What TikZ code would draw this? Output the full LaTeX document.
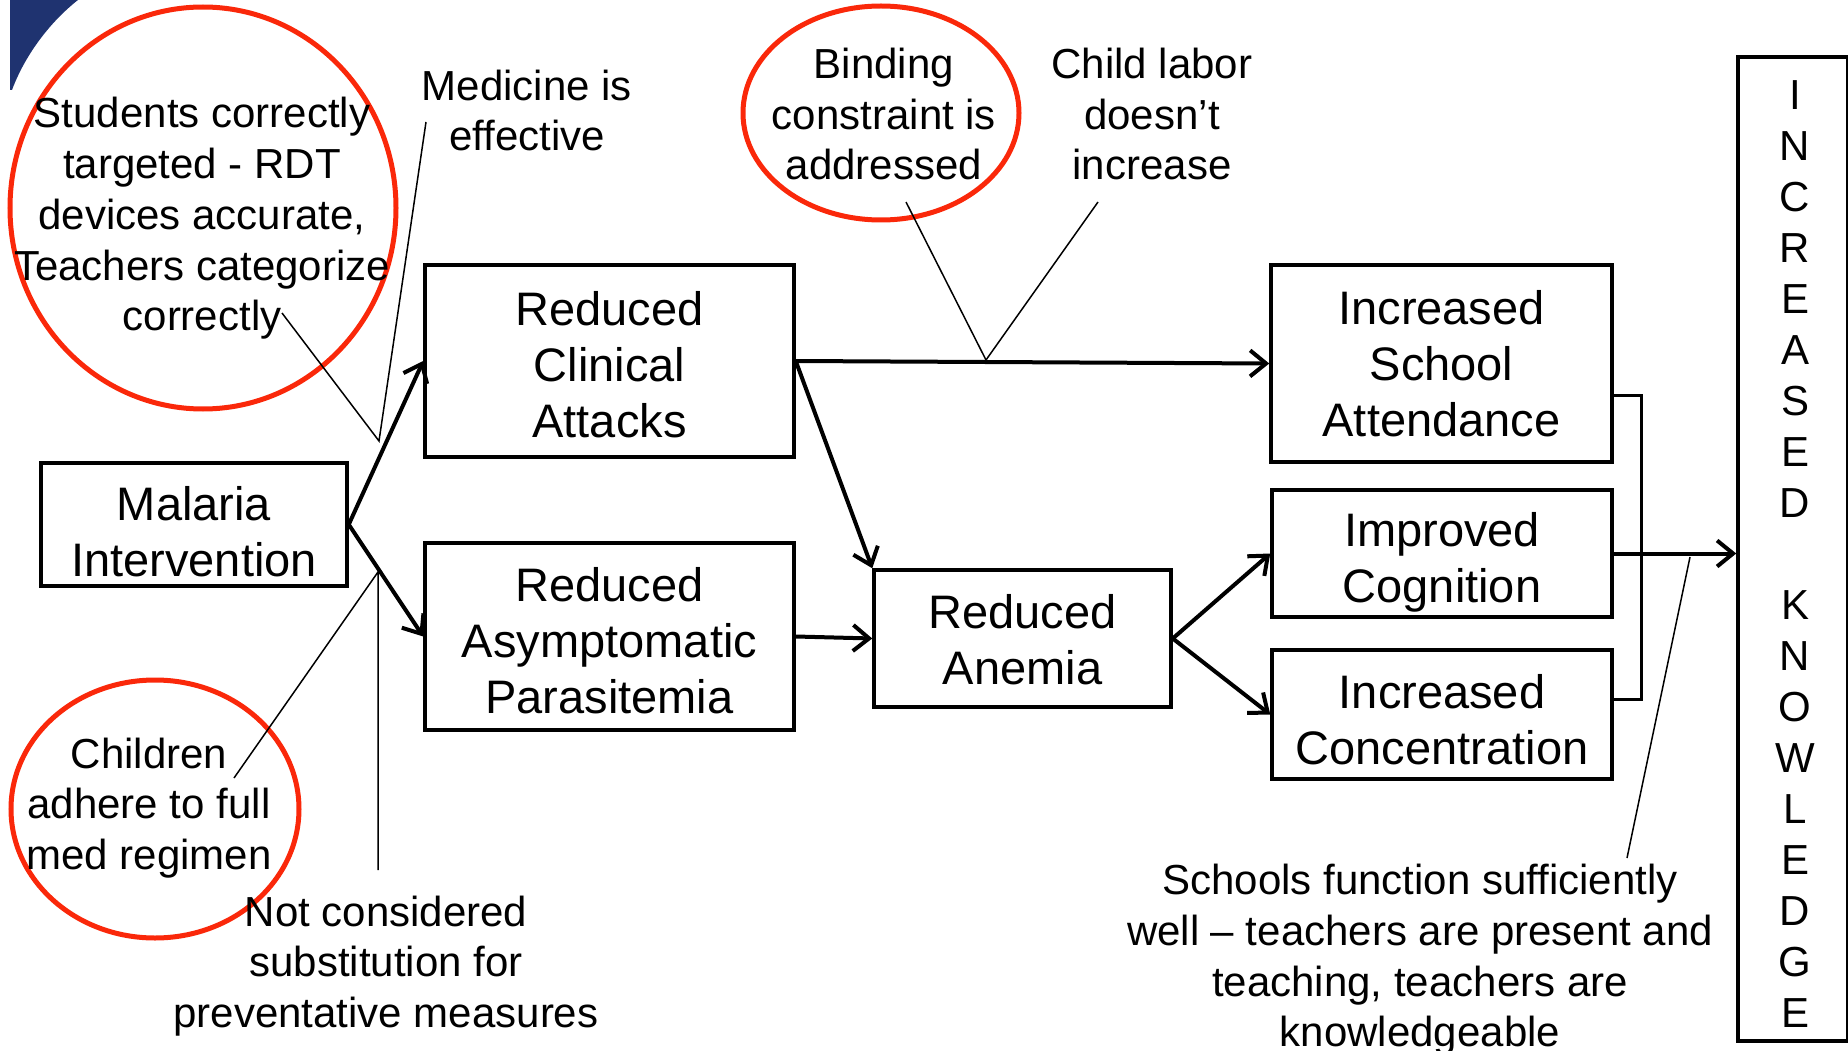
\documentclass[tikz,border=0pt]{standalone}
\usepackage{fontspec}
\setmainfont{Liberation Sans}
\usetikzlibrary{arrows.meta}

\definecolor{ringred}{RGB}{250,40,10}
\definecolor{slideblue}{RGB}{31,51,112}

\tikzset{
	box/.style={draw, line width=3.5pt, align=center, inner sep=0pt, text depth=0pt,
		font=\fontsize{47}{56}\selectfont},
	note/.style={align=center, inner sep=0pt, font=\fontsize{42}{50.7}\selectfont},
	flow/.style={line width=4pt, -{Straight Barb[length=16pt,width=26pt]}},
	pointer/.style={line width=1.5pt},
	ring/.style={draw=ringred, line width=5pt}
}

\begin{document}
\begin{tikzpicture}[x=1pt, y=-1pt]
\useasboundingbox (0,0) rectangle (1848,1051);
% corner of the slide banner
\fill[slideblue] (10,0) -- (78,0) .. controls (50,22) and (25,55) .. (12,90) -- (10,90) -- cycle;

% chain boxes
\node[box, minimum width=306pt, minimum height=123pt, text height=104pt] (mal) at (194,524.5) {Malaria\\Intervention};
\node[box, minimum width=369pt, minimum height=192pt, text height=153pt] (clin) at (609.5,361) {Reduced\\Clinical\\Attacks};
\node[box, minimum width=369pt, minimum height=187pt, text height=153pt] (para) at (609.5,636.5) {Reduced\\Asymptomatic\\Parasitemia};
\node[box, minimum width=297pt, minimum height=137pt, text height=92pt] (anem) at (1022.5,638.5) {Reduced\\Anemia};
\node[box, minimum width=341pt, minimum height=197pt, text height=146pt] (school) at (1441.5,363.5) {Increased\\School\\Attendance};
\node[box, minimum width=340pt, minimum height=127pt, text height=98pt] (cog) at (1442,553.5) {Improved\\Cognition};
\node[box, minimum width=340pt, minimum height=129pt, text height=100pt] (conc) at (1442,714.5) {Increased\\Concentration};
\node[box, minimum width=110pt, minimum height=984pt] (know) at (1793,549) {};
\foreach \c [count=\i] in {I,N,C,R,E,A,S,E,D,{},K,N,O,W,L,E,D,G,E}
	\node[note] (k\i) at (1795, {44.5+51*\i}) {\c};

% causal arrows
\draw[flow] (mal.east) -- (clin.west);
\draw[flow] (mal.east) -- (para.west);
\draw[flow] (clin.east) -- (school.west);
\draw[flow] (clin.east) -- (anem.north west);
\draw[flow] (para.east) -- (anem.west);
\draw[flow] (anem.east) -- (cog.west);
\draw[flow] (anem.east) -- (conc.west);
\draw[flow] (cog.east) -- (cog.east -| know.west);
\coordinate (bt) at (1641,395);
\coordinate (bb) at (1641,699);
\draw[line width=3pt] (school.east |- bt) -- (bt) -- (bb) -- (conc.east |- bb);

% assumptions
\draw[ring] (203,208) ellipse [x radius=193, y radius=201];
\draw[ring] (155,809) ellipse [x radius=144, y radius=129];
\draw[ring] (881,113) ellipse [x radius=138, y radius=107];
\node[note] (stud) at (202,218.5) {Students correctly\\targeted - RDT\\devices accurate,\\Teachers categorize\\correctly};
\node[note] (med) at (527,110.5) {Medicine is\\effective};
\node[note] (bind) at (884,114) {Binding\\constraint is\\addressed};
\node[note] (labor) at (1152,114) {Child labor\\doesn’t\\increase};
\node[note] (kids) at (149,808) {Children\\adhere to full\\med regimen};
\node[note] (subst) at (386,966) {Not considered\\substitution for\\preventative measures};
\node[note] (sch) at (1420,960) {Schools function sufficiently\\well – teachers are present and\\teaching, teachers are\\knowledgeable};

\coordinate (studend) at (282,313);
\coordinate (medend) at (426,122);
\coordinate (j1) at (379,441);
\draw[pointer] (studend) -- (j1) -- (medend);
\coordinate (bindend) at (906,202);
\coordinate (laborend) at (1098,202);
\coordinate (j2) at (986,360);
\draw[pointer] (bindend) -- (j2) -- (laborend);
\coordinate (kidsend) at (234,778);
\coordinate (substend) at (378,870);
\coordinate (j3) at (378,572);
\draw[pointer] (kidsend) -- (j3) -- (substend);
\coordinate (j4) at (1690,557);
\coordinate (schend) at (1627,858);
\draw[pointer] (j4) -- (schend);
\end{tikzpicture}
\end{document}
